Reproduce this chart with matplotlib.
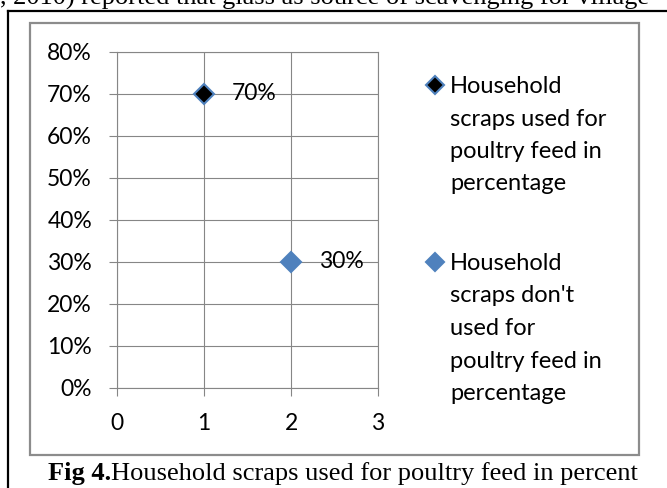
import matplotlib
matplotlib.use("Agg")
from matplotlib import pyplot as plt
from matplotlib.lines import Line2D
from matplotlib.patches import Rectangle
from matplotlib.ticker import FuncFormatter

# data
positions = [1, 2]
shares = [0.70, 0.30]
labels = ["Household scraps used for poultry feed in percentage",
          "Household scraps don't used for poultry feed in percentage"]
legend_lines = [["Household", "scraps used for", "poultry feed in", "percentage"],
                ["Household", "scraps don't", "used for", "poultry feed in",
                 "percentage"]]
x_ticks = [0, 1, 2, 3]
y_ticks = [0.0, 0.1, 0.2, 0.3, 0.4, 0.5, 0.6, 0.7, 0.8]
caption_bold = "Fig 4."
caption_text = "Household scraps used for poultry feed in percent"
page_text = ", 2010) reported that glass as source of scavenging for village"

W, H = 667, 488
BLUE = "#4F81BD"
GRID = "#868686"
FONT = "Lato"
SERIF = "Liberation Serif"
ALS = 16.5
LGS = 17
CAP = 19


def px(x, y):
    # pixel position (from top-left) -> figure fraction
    return x / W, 1 - y / H


fig = plt.figure(figsize=(W / 100, H / 100), dpi=100)
fig.patch.set_facecolor("white")

# page text cut off at the top and the page frame
fig.text(*px(0, 5), page_text, fontsize=CAP, family=SERIF,
         ha="left", va="baseline")
fig.add_artist(Line2D([8 / W, 1], [1 - 11 / H, 1 - 11 / H],
                      color="black", lw=1.6))
fig.add_artist(Line2D([8 / W, 8 / W], [0, 1 - 11 / H],
                      color="black", lw=1.6))

# chart border
x0, y0 = px(30, 455)
fig.add_artist(Rectangle((x0, y0), 609 / W, 432 / H, transform=fig.transFigure,
                         fill=False, edgecolor="#8C8C8C", lw=1.6))

ax = fig.add_axes([117 / W, 1 - 388 / H, 261 / W, 336 / H])
ax.set_xlim(0, 3)
ax.set_ylim(0, 0.8)
ax.set_xticks(x_ticks)
ax.set_yticks(y_ticks)
ax.yaxis.set_major_formatter(FuncFormatter(lambda v, p: '{:.0f}%'.format(v * 100)))
ax.grid(True, color=GRID, lw=0.8)
ax.set_axisbelow(True)
for s in ax.spines.values():
    s.set_color(GRID)
    s.set_linewidth(0.8)
ax.tick_params(axis='both', which='major', labelsize=ALS, color=GRID,
               length=6, width=0.8, pad=12)
for t in ax.get_xticklabels() + ax.get_yticklabels():
    t.set_family(FONT)

faces = ["black", BLUE]
for xi, yi, fc in zip(positions, shares, faces):
    ax.plot([xi], [yi], linestyle="none", marker="D", ms=10.5,
            mfc=fc, mec=BLUE, mew=1.5, zorder=3)
    ax.annotate('{:.0f}%'.format(yi * 100), (xi, yi), xytext=(20, 0),
                textcoords="offset points", ha="left", va="center",
                fontsize=ALS, family=FONT)

# legend
tops = [93, 270]
for lines, fc, top in zip(legend_lines, faces, tops):
    mx, my = px(435, top - 8)
    fig.add_artist(Line2D([mx], [my], linestyle="none", marker="D", ms=9.5,
                          mfc=fc, mec=BLUE, mew=1.5))
    for i, ln in enumerate(lines):
        fig.text(*px(450, top + i * 32.5), ln, fontsize=LGS, family=FONT,
                 ha="left", va="baseline")

# caption
cx, cy = px(48, 480)
t1 = fig.text(cx, cy, caption_bold, fontsize=CAP, family=SERIF,
              fontweight="bold", ha="left", va="baseline")
r = fig.canvas.get_renderer()
bb = t1.get_window_extent(renderer=r)
fig.text(bb.x1 / W, cy, caption_text, fontsize=CAP, family=SERIF,
         ha="left", va="baseline")

fig.savefig("out.png", dpi=100)
